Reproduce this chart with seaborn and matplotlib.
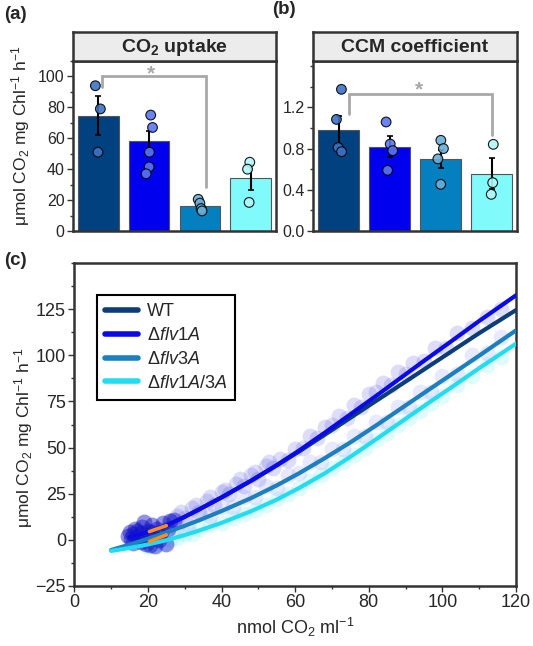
import numpy as np
import pandas as pd
import matplotlib
matplotlib.use("Agg")
import matplotlib.pyplot as plt
import seaborn as sns
from matplotlib.ticker import MultipleLocator, FormatStrFormatter, FixedLocator

# ---------------- data ----------------
strains = ["WT", "flv1A", "flv3A", "flv1A/3A"]
legend_labels = ["WT", r"Δ$\mathit{flv1A}$", r"Δ$\mathit{flv3A}$", r"Δ$\mathit{flv1A/3A}$"]

uptake_mean = [74.6, 58.5, 16.3, 34.4]
uptake_se = [12.5, 6.5, 1.5, 8.0]
uptake_wt = [94, 79, 51]
uptake_flv1 = [75, 67, 51, 41.5, 37]
uptake_flv3 = [20.5, 18, 14.5, 13]
uptake_dbl = [44.5, 40, 18.5]

ccm_mean = [0.98, 0.818, 0.70, 0.556]
ccm_se = [0.14, 0.10, 0.09, 0.15]
ccm_wt = [1.375, 1.083, 0.81, 0.77]
ccm_flv1 = [1.058, 0.844, 0.78, 0.589]
ccm_flv3 = [0.88, 0.80, 0.70, 0.453]
ccm_dbl = [0.841, 0.469, 0.356]

# fitted curves (panel c)
wt_x = [15, 20, 25, 30, 34, 40, 48, 55, 61, 68, 75, 82, 88.5, 95, 102, 110, 120]
wt_y = [1.5, 4.2, 7.8, 12.5, 16.6, 23.0, 32.0, 40.3, 47.8, 56.9, 66.1, 75.3, 83.8, 92.3, 101.5, 112.0, 124.5]
flv1_x = [15, 20, 25, 30, 34, 40, 48, 55, 61, 68, 75, 82, 88.5, 95, 102, 110, 120]
flv1_y = [1.5, 4.2, 7.8, 12.5, 16.6, 23.0, 32.0, 40.5, 48.3, 58.0, 68.0, 78.0, 87.5, 97.0, 107.0, 118.6, 132.5]
flv3_x = [10, 15, 20, 25, 30, 34, 40, 48, 55, 61, 68, 75, 82, 88.5, 95, 102, 110, 120]
flv3_y = [-5.5, -2.6, 0.6, 4.0, 7.6, 10.7, 15.6, 22.6, 29.5, 36.0, 44.2, 52.8, 62.0, 70.8, 79.6, 89.0, 99.8, 113.5]
dbl_x = [10, 15, 20, 25, 30, 34, 40, 48, 55, 61, 68, 75, 82, 88.5, 95, 102, 110, 120]
dbl_y = [-6.0, -4.4, -2.5, -0.2, 2.6, 5.1, 9.2, 15.5, 21.8, 28.0, 36.0, 45.0, 54.5, 63.5, 72.5, 82.0, 93.0, 106.3]

# measured points (clouds, panel c)
blob_x = [14.5, 15, 15.5, 16, 16.5, 17, 17, 18, 18, 18.5, 19, 19.5, 20, 20.5, 21, 21.5, 22,
          22.5, 23, 24, 25, 26, 16, 19, 21, 23.5, 25.5, 27]
blob_y = [2, 4.5, 0.5, 3, 6, 1.5, 5, -1, 3.5, 7, 1, -2.5, 5, -3, 8, 2, -3.5,
          6, 0, 9, -2, 10, -1.5, 9.5, 4, 4, 6, 11]
blue_x = [26, 28, 30, 32, 34, 36, 38, 40, 42, 44, 46, 48, 50, 52, 54, 56, 58, 60, 62, 64, 66,
          68, 70, 72, 74, 76, 78, 80, 82, 84, 86, 88, 90, 92, 95, 98, 101, 104, 108, 112, 116,
          29, 33, 37, 41, 45, 49, 53]
blue_y = [10, 13, 12, 17, 15, 21, 19, 26, 25, 30, 29, 35, 33, 40, 39, 44, 43, 49, 50, 56, 55,
          61, 62, 67, 66, 73, 72, 79, 80, 85, 84, 91, 90, 96, 97, 104, 104, 112, 115, 121, 125,
          15, 19, 23, 27, 33, 37, 42]
mid_x = [28, 31, 34, 37, 40, 43, 46, 49, 52, 55, 58, 61, 64, 67, 70, 73, 76, 79, 82, 85, 88,
         91, 94, 97, 100, 104, 108, 112, 116]
mid_y = [7, 8, 14, 13, 18, 18, 23, 23, 29, 28, 35, 36, 42, 42, 49, 49, 56, 56, 64, 64, 72,
         72, 80, 80, 89, 90, 100, 101, 110]
cyan_x = [20, 22, 24, 26, 28, 30, 32, 34, 37, 40, 43, 46, 49, 52, 55, 58, 61, 64, 67, 70, 73,
          76, 79, 82, 85, 88, 91, 94, 97, 100, 104, 108, 112, 116]
cyan_y = [-4, -3, -2.5, 0, 1, 3, 3, 6, 8, 9, 12, 14, 16, 19, 22, 25, 28, 32, 35, 39, 42,
          46, 50, 54, 58, 62, 66, 70, 74, 78, 84, 89, 95, 99]
orange_upper_x = [20.4, 25]
orange_upper_y = [4.5, 7.7]
orange_lower_x = [20.4, 25]
orange_lower_y = [-0.9, 2.7]

# ---------------- style ----------------
bar_colors = ["#02417f", "#0000ee", "#0480c0", "#80fafa"]
point_colors = ["#3d72c4", "#5a78f2", "#6aaed6", "#b2f8f8"]
line_colors = ["#0b3d78", "#0a0ae8", "#1a80c0", "#22dcf0"]
bar_pal = dict(zip(strains, bar_colors))
pt_pal = dict(zip(strains, point_colors))
line_pal = dict(zip(strains, line_colors))

sns.set_style("ticks")
plt.rcParams["font.family"] = ["Liberation Sans", "DejaVu Sans"]
plt.rcParams["mathtext.fontset"] = "custom"
plt.rcParams["mathtext.rm"] = "Liberation Sans"
plt.rcParams["mathtext.it"] = "Liberation Sans:italic"
plt.rcParams["mathtext.bf"] = "Liberation Sans:bold"

SP = "#333333"
fig = plt.figure(figsize=(5.33, 6.46), dpi=100)
W, H = 533.0, 646.0


def fax(l, t, r, b):
    return [l / W, 1 - b / H, (r - l) / W, (b - t) / H]


axa = fig.add_axes(fax(73, 61, 276, 231))
axb = fig.add_axes(fax(313, 61, 517, 231))
axc = fig.add_axes(fax(74.3, 263, 516, 586))
stripa = fig.add_axes(fax(73, 32, 276, 61))
stripb = fig.add_axes(fax(313, 32, 517, 61))


def style_spines(ax):
    for s in ax.spines.values():
        s.set_visible(True)
        s.set_color(SP)
        s.set_linewidth(1.8)


np.random.seed(7)


def bar_panel(ax, means, ses, groups):
    bdf = pd.DataFrame({"strain": strains, "value": means})
    sns.barplot(data=bdf, x="strain", y="value", hue="strain", palette=bar_pal,
                order=strains, hue_order=strains, width=0.8, edgecolor="#555555",
                linewidth=0.8, errorbar=None, legend=False, saturation=1, ax=ax, zorder=2)
    ax.errorbar(x=np.arange(len(strains)), y=means, yerr=ses, fmt="none",
                ecolor="black", elinewidth=1.5, capsize=2.5, capthick=1.2, zorder=3)
    pdf = pd.DataFrame({"strain": np.repeat(strains, [len(g) for g in groups]),
                        "value": np.concatenate(groups)})
    sns.stripplot(data=pdf, x="strain", y="value", hue="strain", palette=pt_pal,
                  order=strains, hue_order=strains, size=7, edgecolor="black",
                  linewidth=0.8, alpha=0.9, jitter=0.07, legend=False, ax=ax, zorder=4)
    ax.set_xlim(-0.5, 3.5)
    ax.set_xlabel("")
    ax.set_xticks([])
    style_spines(ax)
    ax.tick_params(axis="y", which="major", direction="out", length=4, width=1,
                   color=SP, labelsize=11.5, pad=2)
    ax.tick_params(axis="y", which="minor", direction="out", length=2.5, width=1, color=SP)


bar_panel(axa, uptake_mean, uptake_se, [uptake_wt, uptake_flv1, uptake_flv3, uptake_dbl])
axa.set_ylim(0, 110)
axa.yaxis.set_major_locator(MultipleLocator(20))
axa.yaxis.set_minor_locator(MultipleLocator(10))
axa.set_ylabel(r"μmol CO$_2$ mg Chl$^{-1}$ h$^{-1}$", fontsize=12.5, labelpad=3)
axa.yaxis.set_label_coords(-0.2, 0.56)
axa.plot([0.08, 0.08, 2.13, 2.13], [93.5, 100, 100, 28.6], color="#a8a8a8", lw=2,
         solid_joinstyle="miter", zorder=1)
axa.text(1.04, 101.5, "*", color="#a8a8a8", fontsize=15, fontweight="bold",
         ha="center", va="center")

bar_panel(axb, ccm_mean, ccm_se, [ccm_wt, ccm_flv1, ccm_flv3, ccm_dbl])
axb.set_ylim(0, 1.65)
axb.yaxis.set_major_locator(FixedLocator([0.0, 0.4, 0.8, 1.2]))
axb.yaxis.set_minor_locator(FixedLocator([0.2, 0.6, 1.0, 1.4, 1.6]))
axb.yaxis.set_major_formatter(FormatStrFormatter("%.1f"))
axb.set_ylabel("")
axb.plot([0.2, 0.2, 3.0, 3.0], [1.14, 1.326, 1.326, 0.93], color="#a8a8a8", lw=2,
         solid_joinstyle="miter", zorder=1)
axb.text(1.57, 1.37, "*", color="#a8a8a8", fontsize=15, fontweight="bold",
         ha="center", va="center")

for strip, title in [(stripa, r"CO$_\mathbf{2}$ uptake"), (stripb, "CCM coefficient")]:
    strip.set_facecolor("#ececec")
    strip.set_xticks([])
    strip.set_yticks([])
    style_spines(strip)
    strip.text(0.5, 0.45, title, ha="center", va="center", fontsize=14,
               fontweight="bold", transform=strip.transAxes)

# ---------------- panel c ----------------
sns.scatterplot(x=cyan_x, y=cyan_y, color="#30e6f0", alpha=0.15, s=130, linewidth=0,
                ax=axc, legend=False, zorder=1)
sns.scatterplot(x=mid_x, y=mid_y, color="#5a5af0", alpha=0.13, s=130, linewidth=0,
                ax=axc, legend=False, zorder=1)
sns.scatterplot(x=blue_x, y=blue_y, color="#3030e6", alpha=0.16, s=130, linewidth=0,
                ax=axc, legend=False, zorder=1)
sns.scatterplot(x=blob_x, y=blob_y, color="#1010c8", alpha=0.45, s=130, linewidth=0,
                ax=axc, legend=False, zorder=1)

cdf = pd.concat([
    pd.DataFrame({"x": wt_x, "y": wt_y, "strain": "WT"}),
    pd.DataFrame({"x": flv1_x, "y": flv1_y, "strain": "flv1A"}),
    pd.DataFrame({"x": flv3_x, "y": flv3_y, "strain": "flv3A"}),
    pd.DataFrame({"x": dbl_x, "y": dbl_y, "strain": "flv1A/3A"}),
], ignore_index=True)
for st in strains:
    sub = cdf[cdf["strain"] == st]
    sns.lineplot(data=sub, x="x", y="y", color=line_pal[st], lw=3.0, sort=False,
                 estimator=None, ax=axc, label=st, zorder=3)
sns.lineplot(x=orange_upper_x, y=orange_upper_y, color="#ff8c1a", lw=2.6, ax=axc,
             zorder=4, legend=False)
sns.lineplot(x=orange_lower_x, y=orange_lower_y, color="#ff8c1a", lw=2.6, ax=axc,
             zorder=4, legend=False)

axc.set_xlim(0, 120)
axc.set_ylim(-25, 150)
axc.xaxis.set_major_locator(MultipleLocator(20))
axc.xaxis.set_minor_locator(MultipleLocator(10))
axc.yaxis.set_major_locator(FixedLocator([-25, 0, 25, 50, 75, 100, 125]))
axc.yaxis.set_minor_locator(MultipleLocator(12.5))
style_spines(axc)
axc.tick_params(which="major", direction="out", length=4, width=1, color=SP,
                labelsize=13, pad=2)
axc.tick_params(which="minor", direction="out", length=2.5, width=1, color=SP)
axc.set_xlabel(r"nmol CO$_2$ ml$^{-1}$", fontsize=13, labelpad=3)
axc.set_ylabel(r"μmol CO$_2$ mg Chl$^{-1}$ h$^{-1}$", fontsize=12.5, labelpad=3)
axc.yaxis.set_label_coords(-0.09, 0.46)

handles = [plt.Line2D([], [], color=c, lw=4) for c in line_colors]
leg = axc.legend(handles, legend_labels, loc="upper left", bbox_to_anchor=(0.0514, 0.901),
                 borderaxespad=0, fontsize=13, frameon=True, fancybox=False,
                 framealpha=1, edgecolor="black", handlelength=1.8, handletextpad=0.5,
                 labelspacing=0.38, borderpad=0.45)
leg.get_frame().set_linewidth(1.5)

fig.text(4 / W, 1 - 6 / H, "(a)", fontsize=13.5, fontweight="bold", ha="left", va="top")
fig.text(272 / W, 1 - 1 / H, "(b)", fontsize=13.5, fontweight="bold", ha="left", va="top")
fig.text(4 / W, 1 - 252 / H, "(c)", fontsize=13.5, fontweight="bold", ha="left", va="top")

fig.savefig("out.png", dpi=100)
